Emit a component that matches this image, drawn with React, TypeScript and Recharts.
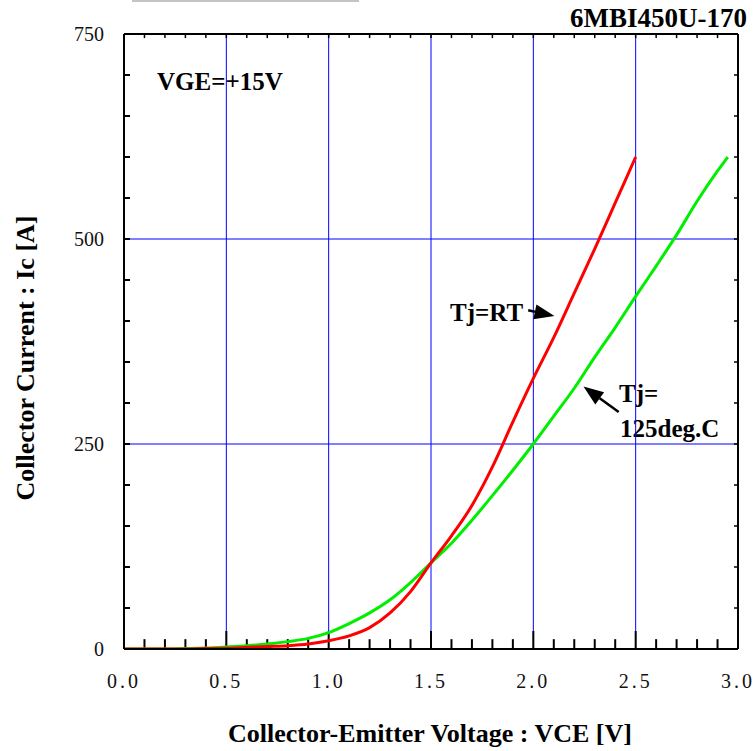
import { LineChart, Line, XAxis, YAxis, ReferenceLine } from "recharts";

// Output characteristics, VGE = +15V
const vceRoom = [0, 0.1, 0.2, 0.3, 0.4, 0.5, 0.6, 0.7, 0.8, 0.9, 1.0, 1.1, 1.2, 1.3, 1.4, 1.5, 1.6, 1.7, 1.8, 1.9, 2.0, 2.1, 2.2, 2.3, 2.4, 2.5];
const icRoom = [0, 0, 0, 0, 0.5, 1, 2, 3, 4, 6, 10, 16, 26, 44, 70, 105, 138, 175, 222, 277, 330, 380, 434, 488, 544, 600];

const vceHot = [0, 0.1, 0.2, 0.3, 0.4, 0.5, 0.6, 0.7, 0.8, 0.9, 1.0, 1.1, 1.2, 1.3, 1.4, 1.5, 1.6, 1.7, 1.8, 1.9, 2.0, 2.1, 2.2, 2.3, 2.4, 2.5, 2.6, 2.7, 2.8, 2.9, 2.95];
const icHot = [0, 0, 0, 0.5, 1.2, 2.5, 4, 6, 9, 13, 20, 31, 44, 60, 81, 105, 129, 157, 187, 218, 250, 284, 318, 356, 392, 430, 467, 505, 546, 583, 600];

const vceTicks = [0, 0.1, 0.2, 0.3, 0.4, 0.5, 0.6, 0.7, 0.8, 0.9, 1.0, 1.1, 1.2, 1.3, 1.4, 1.5, 1.6, 1.7, 1.8, 1.9, 2.0, 2.1, 2.2, 2.3, 2.4, 2.5, 2.6, 2.7, 2.8, 2.9, 3.0];
const icTicks = [0, 50, 100, 150, 200, 250, 300, 350, 400, 450, 500, 550, 600, 650, 700, 750];
const vceLabeled = [0, 0.5, 1.0, 1.5, 2.0, 2.5, 3.0];
const icLabeled = [0, 250, 500, 750];
const vceGrid = [0.5, 1.0, 1.5, 2.0, 2.5];
const icGrid = [250, 500];

// annotation arrows: [from, to] in data units
const arrowRoom = [{ x: 1.975, y: 413 }, { x: 2.103, y: 406 }];
const arrowHot = [{ x: 2.417, y: 289 }, { x: 2.245, y: 320 }];

const roomRows = vceRoom.map((v, i) => ({ vce: v, ic: icRoom[i] }));
const hotRows = vceHot.map((v, i) => ({ vce: v, ic: icHot[i] }));

const W = 756;
const H = 751;
const PLOT_TOP = 34;
const PLOT_RIGHT = 738;
const SERIF = "'Liberation Serif', 'Times New Roman', serif";

// tick mark lengths, in Ic units (0.82 px per A)
const MINOR_LEN = 12;
const MAJOR_LEN = 22;
const TOP_LEN = 5;

const isMajorVce = (v: number) => vceLabeled.some((m) => Math.abs(m - v) < 1e-6);

// x tick labels only; the marks are reference segments
function VceTick(props: any) {
  const { x, y, payload } = props;
  const v = payload.value;
  if (!isMajorVce(v)) return <g />;
  return (
    <text x={x} y={y + 39} textAnchor="middle" fontFamily={SERIF} fontSize={20} letterSpacing={3} fill="#111">
      {v.toFixed(1)}
    </text>
  );
}

function IcTick(props: any) {
  const { x, y, payload } = props;
  const v = payload.value;
  const labeled = icLabeled.includes(v);
  return (
    <g>
      <line x1={x} x2={x + 6} y1={y} y2={y} stroke="#000" strokeWidth={2} />
      <line x1={PLOT_RIGHT} x2={PLOT_RIGHT - 4} y1={y} y2={y} stroke="#000" strokeWidth={1.5} />
      {labeled && (
        <text x={x - 20} y={y} dy="0.35em" textAnchor="end" fontFamily={SERIF} fontSize={20} fill="#111">
          {v}
        </text>
      )}
    </g>
  );
}

function Arrow(props: any) {
  const { x1, y1, x2, y2 } = props;
  const a = Math.atan2(y2 - y1, x2 - x1);
  const len = 20;
  const hw = 7.5;
  const bx = x2 - len * Math.cos(a);
  const by = y2 - len * Math.sin(a);
  const nx = -Math.sin(a) * hw;
  const ny = Math.cos(a) * hw;
  return (
    <g>
      <line x1={x1} y1={y1} x2={bx} y2={by} stroke="#000" strokeWidth={2.5} />
      <polygon points={`${x2},${y2} ${bx + nx},${by + ny} ${bx - nx},${by - ny}`} fill="#000" />
    </g>
  );
}

export default function App() {
  const bold = { fontFamily: SERIF, fontWeight: 700, fill: "#000" } as const;
  return (
    <div style={{ position: "absolute", left: 0, top: 0, width: W, height: H, background: "#fff" }}>
      <LineChart width={W} height={H} margin={{ top: PLOT_TOP, right: W - PLOT_RIGHT, bottom: 72, left: 64 }}>
        {vceGrid.map((v) => (
          <ReferenceLine key={`gx${v}`} x={v} stroke="#0000ff" strokeWidth={1} />
        ))}
        {icGrid.map((v) => (
          <ReferenceLine key={`gy${v}`} y={v} stroke="#0000ff" strokeWidth={1} />
        ))}
        <ReferenceLine y={750} stroke="#000" strokeWidth={2} />
        <ReferenceLine x={3} stroke="#000" strokeWidth={2} />
        <XAxis
          type="number"
          dataKey="vce"
          domain={[0, 3]}
          ticks={vceTicks}
          interval={0}
          height={30}
          tickSize={0}
          tickMargin={0}
          tickLine={false}
          tick={<VceTick />}
          axisLine={{ stroke: "#000", strokeWidth: 2 }}
          allowDataOverflow
        />
        <YAxis
          type="number"
          dataKey="ic"
          domain={[0, 750]}
          ticks={icTicks}
          interval={0}
          width={60}
          tickSize={0}
          tickMargin={0}
          tickLine={false}
          tick={<IcTick />}
          axisLine={{ stroke: "#000", strokeWidth: 2 }}
          allowDataOverflow
        />
        {vceTicks.map((v) => (
          <ReferenceLine
            key={`tb${v}`}
            segment={[{ x: v, y: 0 }, { x: v, y: isMajorVce(v) ? MAJOR_LEN : MINOR_LEN }]}
            stroke="#000"
            strokeWidth={2}
          />
        ))}
        {vceTicks.map((v) => (
          <ReferenceLine
            key={`tt${v}`}
            segment={[{ x: v, y: 750 - TOP_LEN }, { x: v, y: 750 }]}
            stroke="#000"
            strokeWidth={1.5}
          />
        ))}
        <Line data={hotRows} dataKey="ic" type="monotone" stroke="#00ee00" strokeWidth={3} dot={false} isAnimationActive={false} />
        <Line data={roomRows} dataKey="ic" type="monotone" stroke="#ff0000" strokeWidth={3} dot={false} isAnimationActive={false} />
        <ReferenceLine segment={arrowRoom} shape={<Arrow />} ifOverflow="visible" />
        <ReferenceLine segment={arrowHot} shape={<Arrow />} ifOverflow="visible" />

        <line x1={132} x2={359} y1={1} y2={1} stroke="#c4c4c4" strokeWidth={2} />
        <text x={747} y={27} textAnchor="end" fontSize={27} {...bold}>6MBI450U-170</text>
        <text x={157} y={90} fontSize={25} {...bold}>VGE=+15V</text>
        <text x={450} y={321} fontSize={25} {...bold}>Tj=RT</text>
        <text x={619} y={402} fontSize={25} {...bold}>Tj=</text>
        <text x={620} y={437} fontSize={25} {...bold}>125deg.C</text>
        <text x={430} y={742} textAnchor="middle" fontSize={26} {...bold}>Collector-Emitter Voltage : VCE [V]</text>
        <text x={25} y={358} textAnchor="middle" dy="0.35em" fontSize={26} transform="rotate(-90 25 358)" {...bold}>
          Collector Current : Ic [A]
        </text>
      </LineChart>
    </div>
  );
}
